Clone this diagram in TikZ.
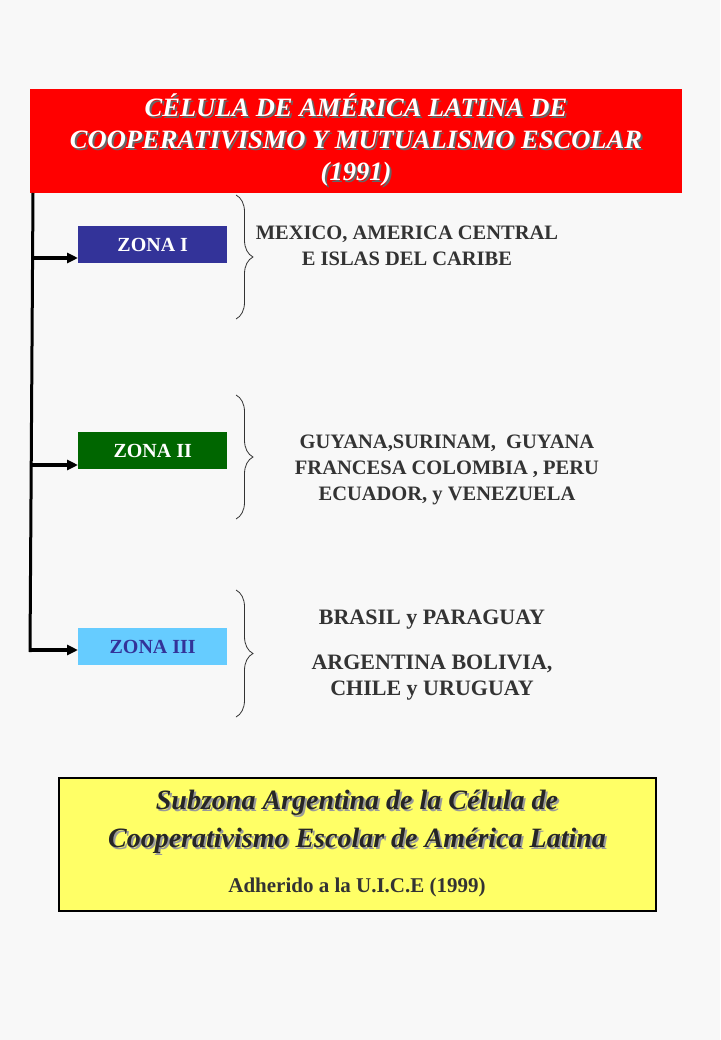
\documentclass[tikz,border=0pt]{standalone}
\usepackage{fontspec}
\setmainfont{Liberation Serif}
\usetikzlibrary{decorations.pathreplacing,arrows.meta}
\definecolor{bg}{HTML}{F8F8F8}
\definecolor{zone1}{HTML}{333399}
\definecolor{zone2}{HTML}{006600}
\definecolor{zone3}{HTML}{66CCFF}
\definecolor{txt}{HTML}{333333}
\begin{document}
\begin{tikzpicture}[x=1pt,y=-1pt,
  zonebox/.style={minimum width=149pt,minimum height=37pt,inner sep=0pt,font=\bfseries\fontsize{20}{22}\selectfont,text=white},
  lst/.style={align=center,font=\bfseries\fontsize{20.5}{26}\selectfont,text=txt},
  br/.style={decorate,decoration={brace,amplitude=17pt},line width=0.8pt,draw=black!80},
  arr/.style={-{Triangle[length=11pt,width=10pt]},line width=3.5pt}]
\fill[bg] (0,0) rectangle (720,1040);
\node[fill=red,minimum width=652pt,minimum height=104pt,anchor=north west,inner sep=0pt] (title) at (30,89) {};
\node[align=center,font=\bfseries\itshape\fontsize{26.5}{32}\selectfont,text=black!60] at (358,142) {CÉLULA DE AMÉRICA LATINA DE\\COOPERATIVISMO Y MUTUALISMO ESCOLAR\\(1991)};
\node[align=center,font=\bfseries\itshape\fontsize{26.5}{32}\selectfont,text=white] (tt) at (356,140) {CÉLULA DE AMÉRICA LATINA DE\\COOPERATIVISMO Y MUTUALISMO ESCOLAR\\(1991)};
\coordinate (top) at (33,193);
\coordinate (bot) at (30,652);
\draw[line width=3pt] (top) -- (bot);
\node[zonebox,fill=zone1,anchor=north west] (z1) at (78,226) {ZONA I};
\node[zonebox,fill=zone2,anchor=north west] (z2) at (78,432) {ZONA II};
\node[zonebox,fill=zone3,anchor=north west,text=zone1] (z3) at (78,628) {ZONA III};
\coordinate (a1) at (32.4,258); \coordinate (a2) at (31.6,465); \coordinate (a3) at (30.2,650);
\draw[arr] (a1) -- (z1.west|-a1);
\draw[arr] (a2) -- (z2.west|-a2);
\draw[arr] (a3) -- (z3.west|-a3);
\draw[br] (236,195) -- (236,319);
\draw[br] (236,395) -- (236,519);
\draw[br] (236,590) -- (236,717);
\node[lst] (t1) at (407,246) {MEXICO, AMERICA CENTRAL\\E ISLAS DEL CARIBE};
\node[lst] (t2) at (447,470) {GUYANA,SURINAM,\ \ GUYANA\\FRANCESA COLOMBIA , PERU\\ECUADOR, y VENEZUELA};
\node[lst,font=\bfseries\fontsize{22}{26}\selectfont] (t3a) at (432,620) {BRASIL y PARAGUAY};
\node[lst,font=\bfseries\fontsize{22}{26}\selectfont] (t3b) at (432,678) {ARGENTINA BOLIVIA,\\CHILE y URUGUAY};
\node[draw=black,line width=2pt,fill={rgb,255:red,255;green,255;blue,102},minimum width=597pt,minimum height=133pt,anchor=north west,inner sep=0pt] (sub) at (58,777) {};
\node[align=center,font=\bfseries\itshape\fontsize{28}{38}\selectfont,text=black!40] at (359,824) {Subzona Argentina de la Célula de\\Cooperativismo Escolar de América Latina};
\node[align=center,font=\bfseries\itshape\fontsize{28}{38}\selectfont,text=black!85] (st) at (357,822) {Subzona Argentina de la Célula de\\Cooperativismo Escolar de América Latina};
\node[font=\bfseries\fontsize{21}{24}\selectfont,text=txt] (ad) at (357,887) {Adherido a la U.I.C.E (1999)};
\end{tikzpicture}
\end{document}
